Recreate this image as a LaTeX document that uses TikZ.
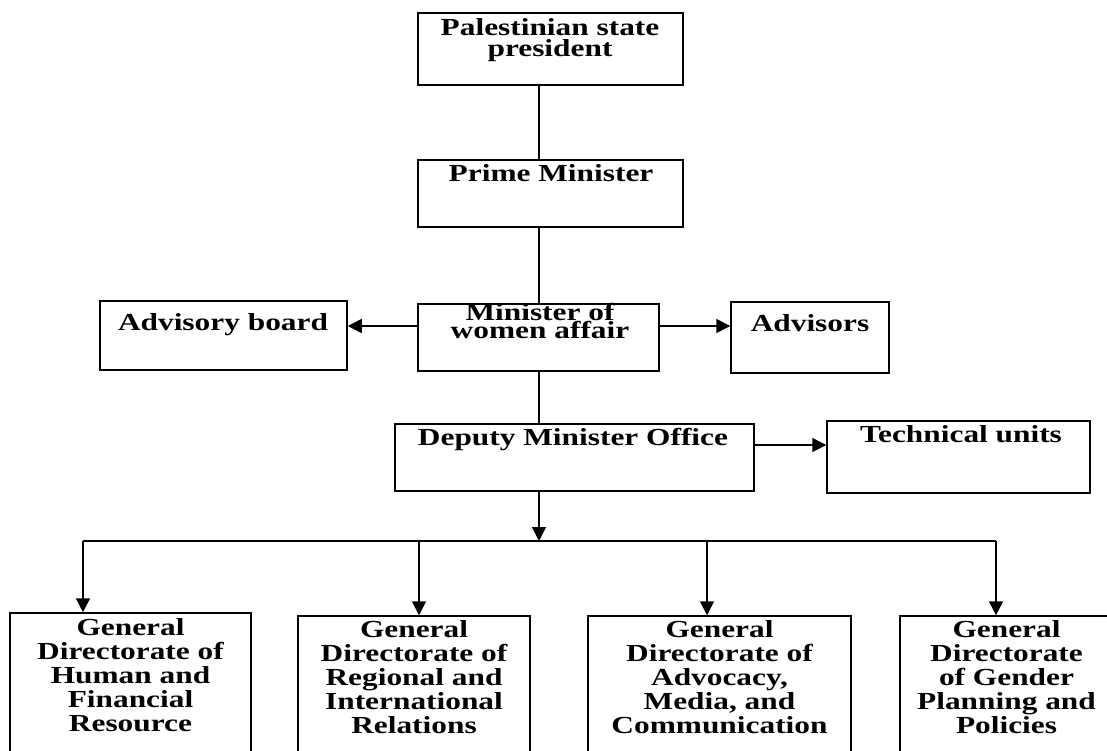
\documentclass[tikz,border=0pt]{standalone}
\usepackage{fontspec}
\setmainfont[FakeStretch=1.28]{Liberation Serif}
\usetikzlibrary{arrows.meta}
\begin{document}
\begin{tikzpicture}[x=1pt,y=-1pt,
  box/.style={draw, line width=1.5pt, inner sep=0pt},
  lbl/.style={font=\bfseries\fontsize{24.5}{21}\selectfont, align=center, inner sep=0pt, anchor=base},
  blbl/.style={font=\bfseries\fontsize{24.5}{24}\selectfont, align=center, inner sep=0pt, anchor=base},
  conn/.style={line width=1.5pt},
  arr/.style={conn, -{Triangle[length=14pt,width=14pt]}}]
\useasboundingbox (0,0) rectangle (1107,751);
\clip (0,0) rectangle (1107,751);
% boxes
\node[box, minimum width=265pt, minimum height=72pt] (pres) at (550.5,49) {};
\node[box, minimum width=265pt, minimum height=67pt] (pm) at (550.5,193.5) {};
\node[box, minimum width=247pt, minimum height=69pt] (adv) at (223.5,335.5) {};
\node[box, minimum width=241pt, minimum height=67pt] (min) at (538.5,337.5) {};
\node[box, minimum width=158pt, minimum height=71pt] (advs) at (810,337.5) {};
\node[box, minimum width=359pt, minimum height=67pt] (dep) at (574.5,457.5) {};
\node[box, minimum width=263pt, minimum height=72pt] (tech) at (958.5,457) {};
\node[box, minimum width=241pt, minimum height=167pt] (d1) at (130.5,696.5) {};
\node[box, minimum width=232pt, minimum height=164pt] (d2) at (414,698) {};
\node[box, minimum width=263pt, minimum height=164pt] (d3) at (719.5,698) {};
\node[box, minimum width=213pt, minimum height=164pt] (d4) at (1006.5,698) {};
% labels (base anchor = baseline of the last line)
\node[lbl] (tpres) at (550,57) {Palestinian state\\president};
\node[lbl] (tpm) at (551,182) {Prime Minister};
\node[lbl] (tadv) at (223,330) {Advisory board};
\node[lbl, font=\bfseries\fontsize{24.5}{16}\selectfont] (tmin) at (540,338.5) {Minister of\\women affair};
\node[lbl] (tadvs) at (810,331) {Advisors};
\node[lbl] (tdep) at (573,445) {Deputy Minister Office};
\node[lbl] (ttech) at (961,442) {Technical units};
\node[blbl] (t1) at (130.5,731) {General\\Directorate of\\Human and\\Financial\\Resource};
\node[blbl] (t2) at (414,733) {General\\Directorate of\\Regional and\\International\\Relations};
\node[blbl] (t3) at (719.5,733) {General\\Directorate of\\Advocacy,\\Media, and\\Communication};
\node[blbl] (t4) at (1006.5,733) {General\\Directorate\\of Gender\\Planning and\\Policies};
% connectors
\coordinate (spine) at (539,0);
\coordinate (r1) at (0,326);
\coordinate (r2) at (0,445);
\coordinate (busL) at (83,541);
\coordinate (busM) at (539,541);
\coordinate (busR) at (996,541);
\coordinate (b2) at (419,541);
\coordinate (b3) at (707,541);
\draw[conn] (pres.south -| spine) -- (pm.north -| spine);
\draw[conn] (pm.south -| spine) -- (min.north -| spine);
\draw[conn] (min.south -| spine) -- (dep.north -| spine);
\draw[arr] (min.west |- r1) -- (adv.east |- r1);
\draw[arr] (min.east |- r1) -- (advs.west |- r1);
\draw[arr] (dep.east |- r2) -- (tech.west |- r2);
\draw[arr] (dep.south -| spine) -- (busM);
\draw[conn] (busL) -- (busR);
\draw[arr] (busL) -- (d1.north -| busL);
\draw[arr] (b2) -- (d2.north -| b2);
\draw[arr] (b3) -- (d3.north -| b3);
\draw[arr] (busR) -- (d4.north -| busR);
\end{tikzpicture}
\end{document}
